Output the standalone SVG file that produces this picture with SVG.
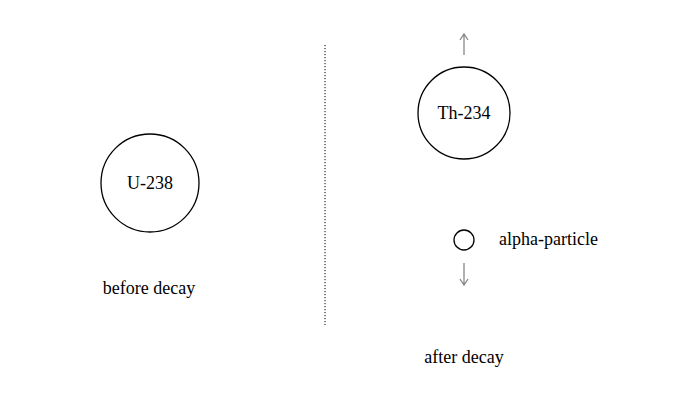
<svg xmlns="http://www.w3.org/2000/svg" width="684" height="404" viewBox="0 0 684 404">
<style>
text{font-family:"Liberation Serif","Times New Roman",serif;font-size:18px;fill:#000}
.n{fill:#fff;stroke:#000;stroke-width:1.3}
.a{stroke:#888;stroke-width:1.3;fill:none}
</style>
<rect width="684" height="404" fill="#fff"/>
<line x1="325" y1="45" x2="325" y2="325" stroke="#000" stroke-width="1" stroke-dasharray="1.2,1.8"/>
<g id="u238"><circle class="n" cx="150" cy="183" r="49"/><text x="150" y="189" text-anchor="middle">U-238</text></g>
<g id="th234"><circle class="n" cx="464" cy="113" r="46"/><text x="464" y="119" text-anchor="middle">Th-234</text></g>
<g id="alpha"><circle class="n" cx="464" cy="240" r="10"/><text x="499" y="245">alpha-particle</text></g>
<g id="connectors">
<path class="a" d="M464 55V34M460 40L464 34L468 40"/>
<path class="a" d="M464 263V285M460 279L464 285L468 279"/>
</g>
<text x="149" y="294" text-anchor="middle">before decay</text>
<text x="464" y="363" text-anchor="middle">after decay</text>
</svg>
